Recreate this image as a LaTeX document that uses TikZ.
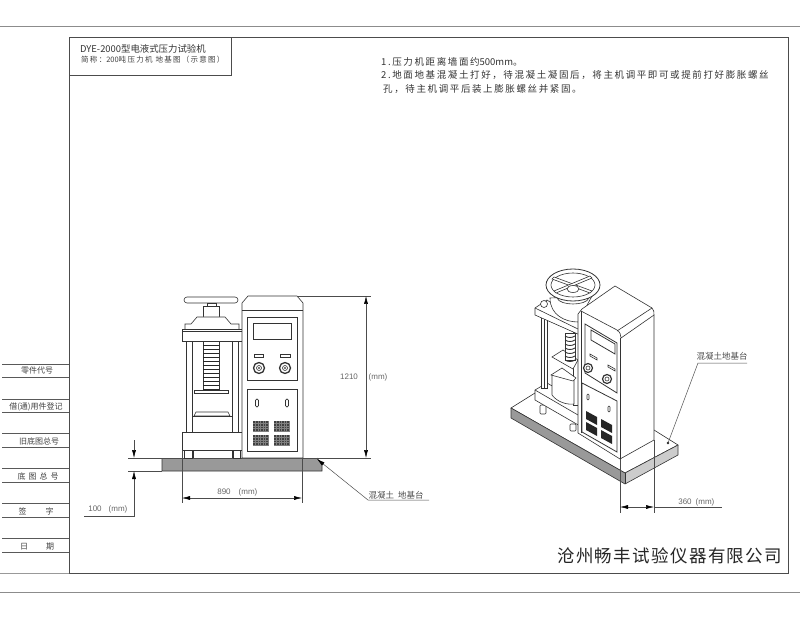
\documentclass[tikz,border=0pt]{standalone}
\usepackage{fontspec}
\usepackage{tikz}
\usetikzlibrary{positioning,arrows.meta}
\newfontfamily\cjk{Noto Sans CJK SC}
\newfontfamily\cjkwide[LetterSpace=17]{Noto Sans CJK SC}
\newfontfamily\dimfont{Liberation Sans}
\tikzset{
  frameline/.style={draw=black!70,line width=1pt},
  part/.style={draw=black!80,line width=0.6pt,fill=white},
  partline/.style={draw=black!80,line width=0.6pt},
  dimline/.style={draw=black!70,line width=0.5pt},
  dimtip/.style={-{Latex[length=8pt,width=4pt,black]}},
  dimarrow/.style={dimline,{Latex[length=8pt,width=4pt,black]}-{Latex[length=8pt,width=4pt,black]}},
  dimtext/.style={text=black!60,font=\dimfont\fontsize{8}{8}\selectfont,inner sep=0pt},
  tabletext/.style={text=black!75,font=\cjk\fontsize{8}{9}\selectfont,inner sep=0pt},
  notetext/.style={text=black!80,font=\cjkwide\fontsize{9.5}{10}\selectfont,inner sep=0pt,anchor=west},
  leadertext/.style={text=black!70,font=\cjk\fontsize{8.5}{9}\selectfont,inner sep=0pt},
  slabfill/.style={fill=black!40,draw=black!80,line width=0.6pt}
}
\begin{document}
\begin{tikzpicture}[x=1pt,y=-1pt]
\useasboundingbox (0,0) rectangle (800,617);
\draw[draw=black!45,line width=0.8pt] (0,26) -- (800,26);
\draw[draw=black!45,line width=0.8pt] (0,592) -- (800,592);
\draw[draw=black!40,line width=0.6pt] (0,573) -- (69,573);
\draw[frameline] (69,38) rectangle (788,573);
\draw[frameline] (69,76) -- (231,76) -- (231,38);
\node[font=\cjk\fontsize{9.4}{10}\selectfont,text=black!80,inner sep=0pt,anchor=west] (titlemain) at (80,49) {DYE-2000型电液式压力试验机};
\node[font=\cjkwide\fontsize{7.5}{8}\selectfont,text=black!75,inner sep=0pt,anchor=west] (titlesub) at (81,60) {简称：{\cjk 200}吨压力机 地基图（示意图）};
\node[notetext] (noteone) at (381,62) {1.压力机距离墙面约{\cjk 500mm}。};
\node[notetext] (notetwo) at (381,75) {2.地面地基混凝土打好，待混凝土凝固后，将主机调平即可或提前打好膨胀螺丝};
\node[notetext] (notethree) at (383,89) {孔，待主机调平后装上膨胀螺丝并紧固。};
\node[font=\cjk\fontsize{17.5}{18}\selectfont,text=black!85,inner sep=0pt,anchor=west] (company) at (557,556) {沧\hspace{1.35pt}州\hspace{1.35pt}畅\hspace{1.35pt}丰\hspace{1.35pt}试\hspace{1.35pt}验\hspace{1.35pt}仪\hspace{1.35pt}器\hspace{1.35pt}有\hspace{1.35pt}限\hspace{1.35pt}公\hspace{1.35pt}司};
\foreach \y in {364,377,399,412,433,447,468,482,503,517,538,552}
  \draw[draw=black!65,line width=0.7pt] (2,\y) -- (69,\y);
\node[tabletext] (rowa) at (37,371) {零件代号};
\node[tabletext] (rowb) at (36,407) {借(通)用件登记};
\node[tabletext] (rowc) at (39,441) {旧底图总号};
\node[tabletext] (rowd) at (38,476) {底\hspace{3pt}图\hspace{3pt}总\hspace{3pt}号};
\node[tabletext] (rowe) at (36,511) {签\hspace{19pt}字};
\node[tabletext] (rowf) at (37,547) {日\hspace{18pt}期};
% front view
\fill[black!40] (162,458) -- (317,458) -- (322,465) -- (322,471) -- (162,471) -- cycle;
\draw[partline] (162,458) -- (162,471) -- (322,471) -- (322,465) -- (317,458);
\draw[frameline] (128,458) -- (371,458);
\draw[frameline] (128,471) -- (162,471);
\draw[part,rounded corners=3pt] (184,297) rectangle (238,303);
\draw[part] (207,303) rectangle (216,306);
\draw[part] (203,306) rectangle (219,317);
\draw[part] (185,329) -- (185,324) -- (191,324) -- (197,317) -- (225,317) -- (231,324) -- (239,324) -- (239,329);
\draw[part] (182,329) rectangle (242,341);
\draw[partline] (182,331) -- (242,331);
\draw[part] (186,341) rectangle (192,432);
\draw[part] (232,341) rectangle (238,432);
\draw[part] (203,341) rectangle (219,390);
\foreach \y in {345,349,...,389}
  \draw[draw=black!85,line width=0.8pt] (203,\y) -- (219,\y);
\draw[part] (194,390) rectangle (228,393);
\draw[part] (196,412) -- (228,412) -- (230,416) -- (194,416) -- cycle;
\draw[partline] (192,416) -- (232,416);
\draw[part] (182,432) rectangle (242,450);
\draw[part] (184,450) rectangle (192,458);
\draw[part] (233,450) rectangle (240,458);
\draw[partline] (193,450) -- (193,458);
\draw[partline] (232,450) -- (232,458);
\draw[part] (242,303) -- (248,296) -- (297,296) -- (303,303) -- (303,458) -- (242,458) -- cycle;
\draw[partline] (242,310) -- (303,310);
\draw[part,line width=0.8pt] (247,317) rectangle (297,380);
\draw[part,line width=0.8pt] (253,323) rectangle (291,339);
\draw[part] (254,354) rectangle (263,357);
\draw[part] (280,354) rectangle (290,357);
\foreach \x in {259,285} {
  \draw[part,line width=1.3pt] (\x,368) circle (5.5pt);
  \draw[partline] (\x,368) circle (2.5pt);
  \fill[black!70] (\x,368) circle (1.2pt);
}
\draw[part,line width=0.8pt] (247,389) rectangle (297,451);
\foreach \x in {257,287}
  \draw[part,rounded corners=1.4pt] (\x-1.5,399) rectangle (\x+1.5,407);
\foreach \x in {253,274} \foreach \y in {421,435} {
  \fill[black!75] (\x,\y) rectangle (\x+16,\y+11);
  \foreach \d in {2.5,5,...,15}
    \draw[draw=black!50,line width=0.25pt] (\x+\d,\y) -- (\x+\d,\y+11);
  \foreach \d in {2.5,5,...,10}
    \draw[draw=black!50,line width=0.25pt] (\x,\y+\d) -- (\x+16,\y+\d);
}
\draw[dimline] (297,296) -- (371,296);
\draw[dimarrow] (366,296) -- (366,458);
\node[dimtext] (fronth) at (349,377) {1210};
\node[dimtext] (fronthu) at (378,377) {(mm)};
\draw[dimline] (182,450) -- (182,503);
\draw[dimline] (302,458) -- (302,503);
\draw[dimarrow] (182,498) -- (302,498);
\node[dimtext] (frontw) at (224,492) {890};
\node[dimtext] (frontwu) at (248,492) {(mm)};
\draw[dimline,dimtip] (134,440) -- (134,458);
\draw[dimline,dimtip] (84,516) -- (134,516) -- (134,471);
\node[dimtext] (fronta) at (95,509) {100};
\node[dimtext] (frontau) at (118,509) {(mm)};
\draw[dimline,{Latex[length=8pt,width=4pt,black]}-] (317,459) -- (368,500) -- (429,500);
\node[leadertext] (frontlabel) at (396,495) {混凝土\hspace{4pt}地基台};
% iso view
\draw[part] (511,408) -- (535,393) -- (654,430) -- (678,445) -- (625,473) -- cycle;
\fill[black!40] (511,408) -- (625,473) -- (625,484) -- (511,418) -- cycle;
\fill[black!20] (625,473) -- (678,445) -- (678,455) -- (625,484) -- cycle;
\draw[partline] (511,408) -- (511,418) -- (625,484) -- (678,455) -- (678,445);
\draw[partline] (511,408) -- (625,473) -- (678,445);
\draw[partline] (625,473) -- (625,484);
\draw[part,rounded corners=1pt] (540,405) rectangle (546,414);
\draw[part,rounded corners=1pt] (570,424) rectangle (576,431);
\draw[part] (535,390) -- (547,383) -- (580,402) -- (580,426) -- (535,400) -- cycle;
\draw[partline] (535,390) -- (578,415);
\draw[part] (541,315) rectangle (547,388);
\draw[partline] (544,315) -- (544,388);
\draw[part] (573,330) rectangle (580,405);
\draw[part] (552,375) -- (552,395) .. controls (557,402) and (567,405) .. (574,404) -- (574,378) -- cycle;
\draw[part] (551,375) -- (562,368) -- (576,378) -- (573,381) -- cycle;
\draw[part] (552,357) -- (563,350) -- (578,360) -- (573,369) -- cycle;
\draw[part] (565,333) rectangle (575,360);
\foreach \y in {336,340,...,360}
  \draw[partline,line width=0.9pt] (565,\y) .. controls (568,\y+2) and (572,\y+2) .. (575,\y);
\draw[part] (535,308) -- (547,300) -- (580,322) -- (580,335) -- (535,315) -- cycle;
\draw[partline] (535,308) -- (580,330);
\draw[part] (544,304) circle (3.5pt);
\draw[part] (550,298) .. controls (550,315) and (565,322) .. (578,322) -- (592,296) -- cycle;
\draw[part] (557,292) -- (557,298) .. controls (560,306) and (586,306) .. (589,298) -- (589,292) -- cycle;
\draw[part,line width=0.8pt] (573,285) ellipse (27pt and 16pt);
\draw[partline] (573,285) ellipse (22pt and 12pt);
\draw[part] (552,279) -- (554,277) -- (592,291) -- (590,293) -- cycle;
\draw[part] (590,276) -- (592,278) -- (556,293) -- (554,291) -- cycle;
\draw[part] (573,289) ellipse (6pt and 3.5pt);
\draw[part] (582,309) -- (615,286) -- (652,308) .. controls (654,310) and (654,312) .. (654,315) -- (654,440) -- (620,459) -- (578,433) -- (578,314) -- cycle;
\draw[partline] (581,311) -- (617,330) .. controls (620,332) and (621,335) .. (621,338) -- (654,315);
\draw[partline] (617,331) -- (652,308);
\draw[partline] (620,338) -- (620,459);
\draw[partline] (581,311) -- (581,433);
\draw[part,line width=0.8pt] (585,324) -- (617,343) -- (617,393) -- (585,373) -- cycle;
\draw[part,line width=0.8pt] (591,330) -- (615,344) -- (615,354) -- (591,340) -- cycle;
\draw[part] (590,354) -- (597,358) -- (597,360) -- (590,356) -- cycle;
\draw[part] (608,365) -- (615,369) -- (615,371) -- (608,367) -- cycle;
\foreach \x/\y in {588/368,607/379} {
  \draw[part,line width=1.2pt] (\x,\y) circle (4.5pt);
  \draw[partline] (\x,\y) circle (2pt);
}
\draw[part,line width=0.8pt] (582,383) -- (617,401) -- (617,452) -- (582,432) -- cycle;
\draw[part,rounded corners=1pt] (587,394) rectangle (589,400);
\draw[part,rounded corners=1pt] (608,406) rectangle (610,412);
\foreach \x/\y in {586/411,601/419,586/422,601/430}
  \fill[black!85] (\x,\y) -- (\x+11,\y+6) -- (\x+11,\y+14) -- (\x,\y+8) -- cycle;
\draw[dimline] (620,459) -- (620,513);
\draw[dimline] (654,440) -- (654,513);
\draw[dimline] (654,507) -- (722,507);
\draw[dimarrow] (620,507) -- (654,507);
\node[dimtext] (isow) at (685,502) {360};
\node[dimtext] (isowu) at (705,502) {(mm)};
\fill[black!85] (668,443) circle (1.3pt);
\draw[dimline] (668,443) -- (698,363) -- (747,363);
\node[leadertext] (isolabel) at (722,356) {混凝土地基台};
\end{tikzpicture}
\end{document}
